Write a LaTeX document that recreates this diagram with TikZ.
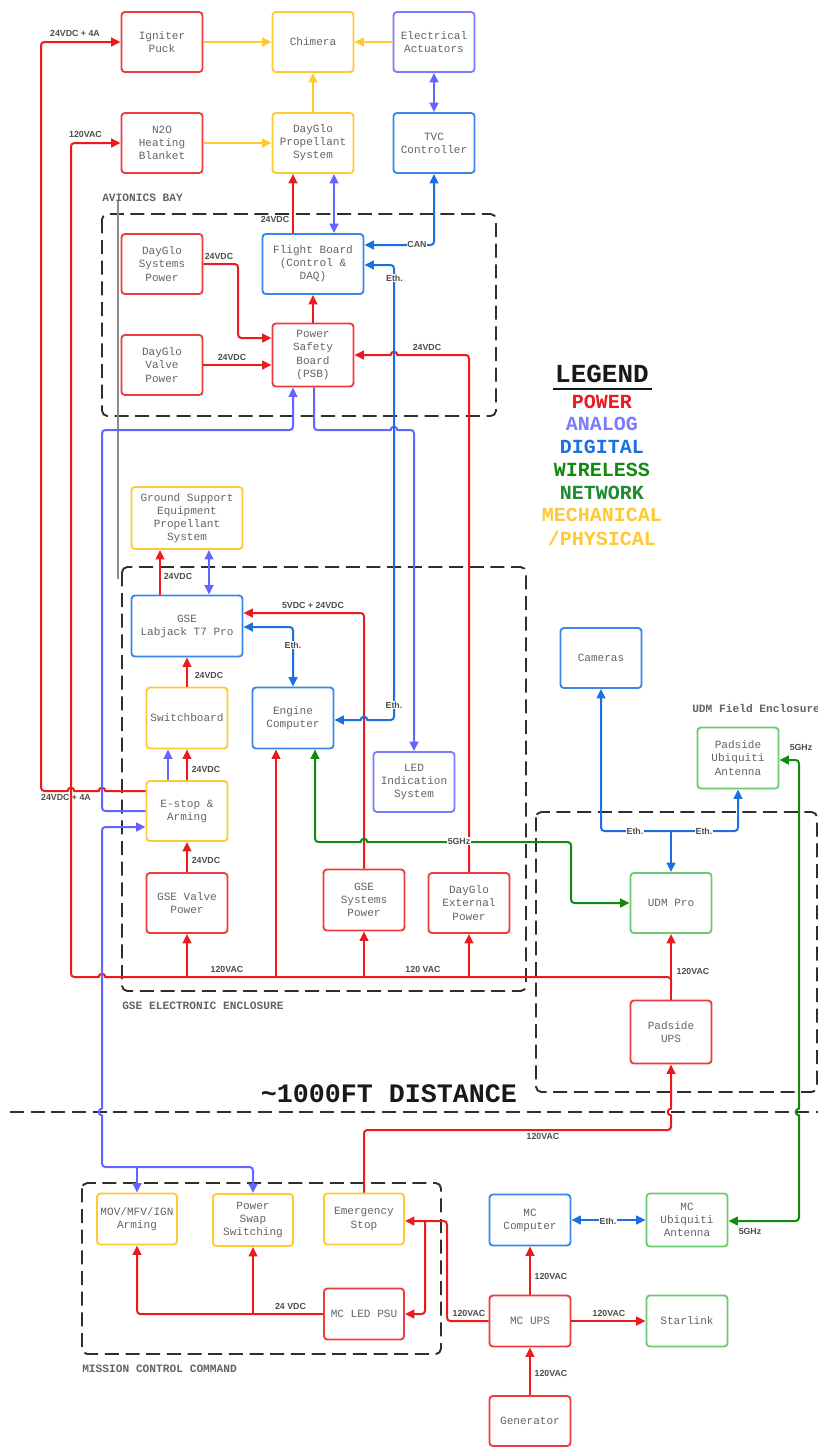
\documentclass[tikz,border=0pt]{standalone}
\usepackage{fontspec}
\setmainfont{Liberation Sans}
\newfontfamily\boxfont{Liberation Mono}
\usetikzlibrary{arrows.meta}

% signal colours
\definecolor{pwr}{HTML}{EB1A1F}
\definecolor{pwrbox}{HTML}{EE3B3B}
\definecolor{ana}{HTML}{6464FF}
\definecolor{anabox}{HTML}{7B7BFF}
\definecolor{dig}{HTML}{1A6FE3}
\definecolor{digbox}{HTML}{3A86EA}
\definecolor{wls}{HTML}{128A12}
\definecolor{netbox}{HTML}{6CCB6C}
\definecolor{netleg}{HTML}{1E8C2E}
\definecolor{mech}{HTML}{FFC933}
\definecolor{txt}{HTML}{646464}
\definecolor{lbl}{HTML}{4D4D4D}
\definecolor{encl}{HTML}{2E2E2E}

\begin{document}
\begin{tikzpicture}[x=0.75pt,y=-0.75pt,
  >={Triangle[length=7pt,width=6.5pt]},
  box/.style={draw, fill=white, rounded corners=2.5pt, line width=1.4pt, align=center,
    inner sep=1pt, font=\boxfont\fontsize{8.3}{9.8}\selectfont, text=txt,
    minimum width=60.75pt, minimum height=45pt},
  pbox/.style={box, draw=pwrbox},
  ybox/.style={box, draw=mech},
  abox/.style={box, draw=anabox},
  dbox/.style={box, draw=digbox},
  gbox/.style={box, draw=netbox},
  wire/.style={line width=1.5pt, rounded corners=2.5pt},
  pw/.style={wire, draw=pwr},
  an/.style={wire, draw=ana},
  dg/.style={wire, draw=dig},
  wl/.style={wire, draw=wls},
  mc/.style={wire, draw=mech},
  tag/.style={font=\bfseries\fontsize{6.6}{7}\selectfont, text=lbl, inner sep=0.5pt},
  ontag/.style={tag, fill=white},
  encl/.style={draw=encl, line width=1.4pt, dash pattern=on 10.5pt off 5pt, rounded corners=4pt},
  sect/.style={font=\boxfont\bfseries\fontsize{8.4}{9}\selectfont, text=txt, anchor=west, inner sep=0pt},
  leg/.style={font=\boxfont\bfseries\fontsize{15}{16}\selectfont, inner sep=0pt},
  hop/.style={start angle=#1, delta angle=180, radius=2.5pt},
  hopcw/.style={start angle=#1, delta angle=-180, radius=2.5pt}
]
\fill[white] (0,0) rectangle (818,1447);
\useasboundingbox (0,0) rectangle (818,1447);

% ---------- enclosures ----------
\draw[encl] (102,214) rectangle (496,416);
\draw[encl] (122,567) rectangle (526,991);
\draw[encl] (536,812) rectangle (817,1092);
\draw[encl] (82,1183) rectangle (441,1354);
\draw[encl, rounded corners=0pt] (10,1112) -- (818,1112);
\draw[line width=1.4pt, draw=black!45] (118,200) -- (118,579);

\node[sect] (secav) at (102,198) {AVIONICS BAY};
\node[sect] (secgse) at (122,1006) {GSE ELECTRONIC ENCLOSURE};
\node[sect] (secudm) at (692,708) {UDM Field Enclosure};
\node[sect] (secmc) at (82,1369) {MISSION CONTROL COMMAND};
\node[font=\boxfont\bfseries\fontsize{20}{22}\selectfont, text=black!90, inner sep=0pt] (dist) at (389,1094) {\char`\~1000FT DISTANCE};

% ---------- legend ----------
\node[leg, font=\boxfont\bfseries\fontsize{19.5}{21}\selectfont, text=black!90] (legtitle) at (602,374) {LEGEND};
\draw[line width=2.2pt, black!90] (553,389) -- (652,389);
\node[leg, text=pwr] (legpw) at (602,402) {POWER};
\node[leg, text=anabox] (legan) at (602,424) {ANALOG};
\node[leg, text=dig] (legdg) at (602,447) {DIGITAL};
\node[leg, text=wls] (legwl) at (602,470) {WIRELESS};
\node[leg, text=netleg] (legnet) at (602,493) {NETWORK};
\node[leg, text=mech] (legmech) at (602,515) {MECHANICAL};
\node[leg, text=mech] (legphys) at (602,538) {/PHYSICAL};

% ---------- vehicle ----------
\node[pbox] (igniter) at (162,42) {Igniter\\Puck};
\node[ybox] (chimera) at (313,42) {Chimera};
\node[abox] (elect) at (434,42) {Electrical\\Actuators};
\node[pbox] (n2o) at (162,143) {N2O\\Heating\\Blanket};
\node[ybox] (dgprop) at (313,143) {DayGlo\\Propellant\\System};
\node[dbox] (tvc) at (434,143) {TVC\\Controller};

% ---------- avionics bay ----------
\node[pbox] (dgsys) at (162,264) {DayGlo\\Systems\\Power};
\node[dbox, minimum width=75.75pt] (flight) at (313,264) {Flight Board\\(Control \&\\DAQ)};
\node[pbox] (dgvalve) at (162,365) {DayGlo\\Valve\\Power};
\node[pbox, minimum height=47.25pt] (psb) at (313,355) {Power\\Safety\\Board\\(PSB)};

% ---------- GSE ----------
\node[ybox, minimum width=83.25pt, minimum height=46.5pt] (gsep) at (187,518) {Ground Support\\Equipment\\Propellant\\System};
\node[dbox, minimum width=83.25pt, minimum height=45.75pt] (labjack) at (187,626) {GSE\\Labjack T7 Pro};
\node[ybox, minimum height=45.75pt] (switchb) at (187,718) {Switchboard};
\node[dbox, minimum height=45.75pt] (engine) at (293,718) {Engine\\Computer};
\node[ybox] (estop) at (187,811) {E-stop \&\\Arming};
\node[abox] (led) at (414,782) {LED\\Indication\\System};
\node[pbox] (gsevalve) at (187,903) {GSE Valve\\Power};
\node[pbox, minimum height=45.75pt] (gsesys) at (364,900) {GSE\\Systems\\Power};
\node[pbox] (dgext) at (469,903) {DayGlo\\External\\Power};

% ---------- pad side ----------
\node[dbox] (cameras) at (601,658) {Cameras};
\node[gbox, minimum height=45.75pt] (padant) at (738,758) {Padside\\Ubiquiti\\Antenna};
\node[gbox] (udmpro) at (671,903) {UDM Pro};
\node[pbox, minimum height=47.25pt] (padups) at (671,1032) {Padside\\UPS};

% ---------- mission control ----------
\node[ybox, minimum width=60pt, minimum height=38.25pt] (movarm) at (137,1219) {MOV/MFV/IGN\\Arming};
\node[ybox, minimum width=60pt, minimum height=39pt] (pswap) at (253,1220) {Power\\Swap\\Switching};
\node[ybox, minimum width=60pt, minimum height=38.25pt] (estopmc) at (364,1219) {Emergency\\Stop};
\node[pbox, minimum width=60pt, minimum height=38.25pt] (mcled) at (364,1314) {MC LED PSU};
\node[dbox, minimum height=38.25pt] (mccomp) at (530,1220) {MC\\Computer};
\node[gbox, minimum height=39.75pt] (mcubi) at (687,1220) {MC\\Ubiquiti\\Antenna};
\node[pbox, minimum height=38.25pt] (mcups) at (530,1321) {MC UPS};
\node[gbox, minimum height=38.25pt] (starlink) at (687,1321) {Starlink};
\node[pbox, minimum height=37.5pt] (generator) at (530,1421) {Generator};

% ---------- mechanical links ----------
\draw[mc,->] (igniter) -- (chimera);
\draw[mc,->] (elect) -- (chimera);
\draw[mc,->] (n2o) -- (dgprop);
\draw[mc,->] (dgprop) -- (chimera);

% ---------- power (hops are small arcs over crossed wires) ----------
\draw[pw,->] (estop.west |- 0,791) [sharp corners] -- (105.33,791) arc[hop=0]
  -- (74.33,791) arc[hop=0] -- (60,791) [rounded corners=2.5pt] -- (41,791) -- (41,42) -- (igniter.west);
\draw[pw,->] (padups.north) -- (udmpro.south);
\draw[pw,->] (padups.north |- 0,990) -- (padups.north |- 0,977) -- (200,977) [sharp corners]
  -- (105.33,977) arc[hop=0] -- (90,977) [rounded corners=2.5pt] -- (71,977) -- (71,143) -- (n2o.west);
\draw[pw,->] (gsevalve.south |- 0,977) -- (gsevalve.south);
\draw[pw,->] (276,977) -- (engine.south -| 276,0);
\draw[pw,->] (gsesys.south |- 0,977) -- (gsesys.south);
\draw[pw,->] (dgext.south |- 0,977) -- (dgext.south);
\draw[pw,->] (dgsys.east) -- (238,264) -- (238,338) -- (psb.west |- 0,338);
\draw[pw,->] (dgvalve.east) -- (psb.west |- dgvalve.east);
\draw[pw,->] (psb.north) -- (flight.south);
\draw[pw,->] (flight.north -| 293,0) -- (dgprop.south -| 293,0);
\draw[pw,->] (dgext.north) -- (469,355) -- (430,355) [sharp corners] -- (397.33,355) arc[hop=0]
  -- (psb.east |- 0,355);
\draw[pw,->] (gsesys.north) -- (364,613) -- (labjack.east |- 0,613);
\draw[pw,->] (labjack.north -| 160,0) -- (gsep.south -| 160,0);
\draw[pw,->] (switchb.north) -- (labjack.south);
\draw[pw,->] (estop.north) -- (switchb.south);
\draw[pw,->] (gsevalve.north) -- (estop.south);
\draw[pw,->] (estopmc.north) -- (364,1130) -- (671,1130) -- (671,1125) [sharp corners]
  -- (671,1115.33) arc[hopcw=270] -- (padups.south);
\draw[pw,->] (mcled.west) -- (137,1314) -- (movarm.south);
\draw[pw,->] (pswap.south |- mcled.west) -- (pswap.south);
\draw[pw,->] (mcups.west) -- (447,1321) -- (447,1221) -- (estopmc.east |- 0,1221);
\draw[pw,->] (425,1221) -- (425,1314) -- (mcled.east);
\draw[pw,->] (mcups.north) -- (mccomp.south);
\draw[pw,->] (mcups.east) -- (starlink.west);
\draw[pw,->] (generator.north) -- (mcups.south);

% ---------- analog ----------
\draw[an,<->] (elect.south) -- (tvc.north);
\draw[an,<->] (dgprop.south -| 334,0) -- (flight.north -| 334,0);
\draw[an,->] (estop.west) -- (102,811) -- (102,430) -- (293,430) -- (psb.south -| 293,0);
\draw[an,->] (psb.south -| 314,0) -- (314,430) -- (360,430) [sharp corners] -- (390.67,430) arc[hopcw=180]
  -- (405,430) [rounded corners=2.5pt] -- (414,430) -- (led.north);
\draw[an,<->] (gsep.south -| 209,0) -- (labjack.north -| 209,0);
\draw[an,->] (estop.north -| 168,0) -- (switchb.south -| 168,0);
\draw[an,<->] (estop.west |- 0,827) -- (102,827) -- (102,1000) [sharp corners] -- (102,1108.67) arc[hop=90]
  -- (102,1140) [rounded corners=2.5pt] -- (102,1167) -- (253,1167) -- (pswap.north);
\draw[an,->] (137,1167) -- (movarm.north);

% ---------- digital ----------
\draw[dg,<->] (tvc.south) -- (434,245) -- (flight.east |- 0,245);
\draw[dg,<->] (flight.east |- 0,265) -- (394,265) -- (394,720) -- (380,720) [sharp corners]
  -- (367.33,720) arc[hop=0] -- (engine.east |- 0,720);
\draw[dg,<->] (labjack.east |- 0,627) -- (293,627) -- (engine.north);
\draw[dg,<->] (cameras.south) -- (601,831) -- (738,831) -- (padant.south);
\draw[dg,->] (671,831) -- (udmpro.north);
\draw[dg,<->] (mccomp.east) -- (mcubi.west);

% ---------- wireless ----------
\draw[wl,<->] (engine.south -| 315,0) -- (315,842) -- (340,842) [sharp corners] -- (360.67,842) arc[hopcw=180]
  -- (420,842) [rounded corners=2.5pt] -- (571,842) -- (571,903) -- (udmpro.west);
\draw[wl,<->] (padant.east |- 0,760) -- (799,760) -- (799,1000) [sharp corners] -- (799,1108.67) arc[hop=90]
  -- (799,1140) [rounded corners=2.5pt] -- (799,1221) -- (mcubi.east |- 0,1221);

% ---------- connector labels ----------
\node[tag] (t1) at (75,33) {24VDC + 4A};
\node[tag] (t2) at (85.5,134) {120VAC};
\node[tag] (t3) at (275,219) {24VDC};
\node[tag] (t4) at (219,256) {24VDC};
\node[tag] (t5) at (232,357) {24VDC};
\node[tag] (t6) at (427,347) {24VDC};
\node[ontag] (t7) at (417,244) {CAN};
\node[ontag] (t8) at (394.5,278) {Eth.};
\node[ontag] (t9) at (394,705) {Eth.};
\node[tag] (t10) at (178,576) {24VDC};
\node[tag] (t11) at (313,605) {5VDC + 24VDC};
\node[ontag] (t12) at (293,645) {Eth.};
\node[tag] (t13) at (209,675) {24VDC};
\node[tag] (t14) at (206,769) {24VDC};
\node[tag] (t15) at (66,797) {24VDC + 4A};
\node[tag] (t16) at (206,860) {24VDC};
\node[ontag] (t17) at (459,841) {5GHz};
\node[tag] (t18) at (227,969) {120VAC};
\node[tag] (t19) at (423,969) {120 VAC};
\node[tag] (t20) at (693,971) {120VAC};
\node[ontag] (t21) at (635,831) {Eth.};
\node[ontag] (t22) at (704,831) {Eth.};
\node[tag] (t23) at (801,747) {5GHz};
\node[tag] (t24) at (543,1136) {120VAC};
\node[tag] (t25) at (290.5,1306) {24 VDC};
\node[tag] (t26) at (469,1313) {120VAC};
\node[tag] (t27) at (551,1276) {120VAC};
\node[tag] (t28) at (609,1313) {120VAC};
\node[tag] (t29) at (551,1373) {120VAC};
\node[tag] (t30) at (750,1231) {5GHz};
\node[ontag] (t31) at (608,1221) {Eth.};
\end{tikzpicture}
\end{document}
